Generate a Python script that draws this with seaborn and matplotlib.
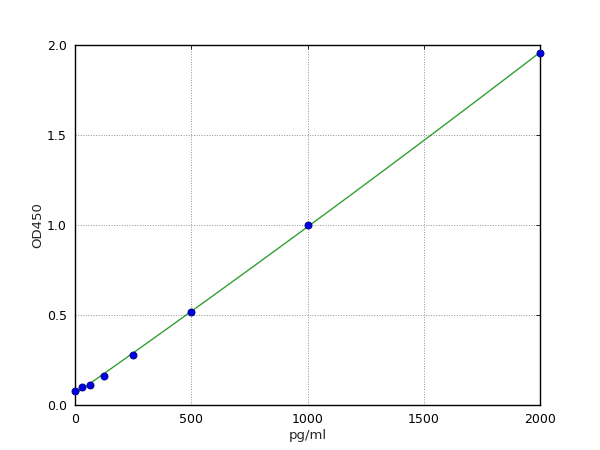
import numpy as np
import pandas as pd
import seaborn as sns
import matplotlib
matplotlib.use("Agg")
import matplotlib.pyplot as plt

# standard curve readings
conc = [0, 31.25, 62.5, 125, 250, 500, 1000, 2000]
od450 = [0.078, 0.098, 0.111, 0.161, 0.278, 0.517, 1.0, 1.957]
xticks = [0, 500, 1000, 1500, 2000]
yticks = [0.0, 0.5, 1.0, 1.5, 2.0]

df = pd.DataFrame({"pg/ml": conc, "OD450": od450})

# smooth fitted curve from the points (2nd order fit)
coef = np.polyfit(df["pg/ml"], df["OD450"], 2)
fit_x = np.linspace(0, 2000, 200)
fit = pd.DataFrame({"pg/ml": fit_x, "OD450": np.polyval(coef, fit_x)})

sns.set_theme(style="white")
plt.rcParams["font.family"] = ["DejaVu Sans"]

fig = plt.figure(figsize=(6, 4.5), dpi=100)
ax = fig.add_axes([0.125, 0.1, 0.775, 0.8])

sns.lineplot(data=fit, x="pg/ml", y="OD450", color="#33a033", linewidth=1, ax=ax)
sns.scatterplot(data=df, x="pg/ml", y="OD450", color="#0000e0", edgecolor="#000080",
                s=26, linewidth=0.6, zorder=3, clip_on=False, ax=ax)

ax.set_xlim(0, 2000)
ax.set_ylim(0, 2.0)
ax.set_xticks(xticks)
ax.set_yticks(yticks)
ax.set_xticklabels([str(t) for t in xticks])
ax.set_yticklabels([f"{t:.1f}" for t in yticks])
ax.grid(True, linestyle=":", color="#909090", linewidth=0.7)
for s in ax.spines.values():
    s.set_color("black")
    s.set_linewidth(1)
ax.tick_params(direction="in", length=3, width=0.6, labelsize=9, colors="black",
               top=True, right=True, pad=6)
ax.set_xlabel("pg/ml", fontsize=9.5, labelpad=2)
ax.set_ylabel("OD450", fontsize=9.5, labelpad=2)

fig.savefig("out.png", dpi=100, facecolor="white")
